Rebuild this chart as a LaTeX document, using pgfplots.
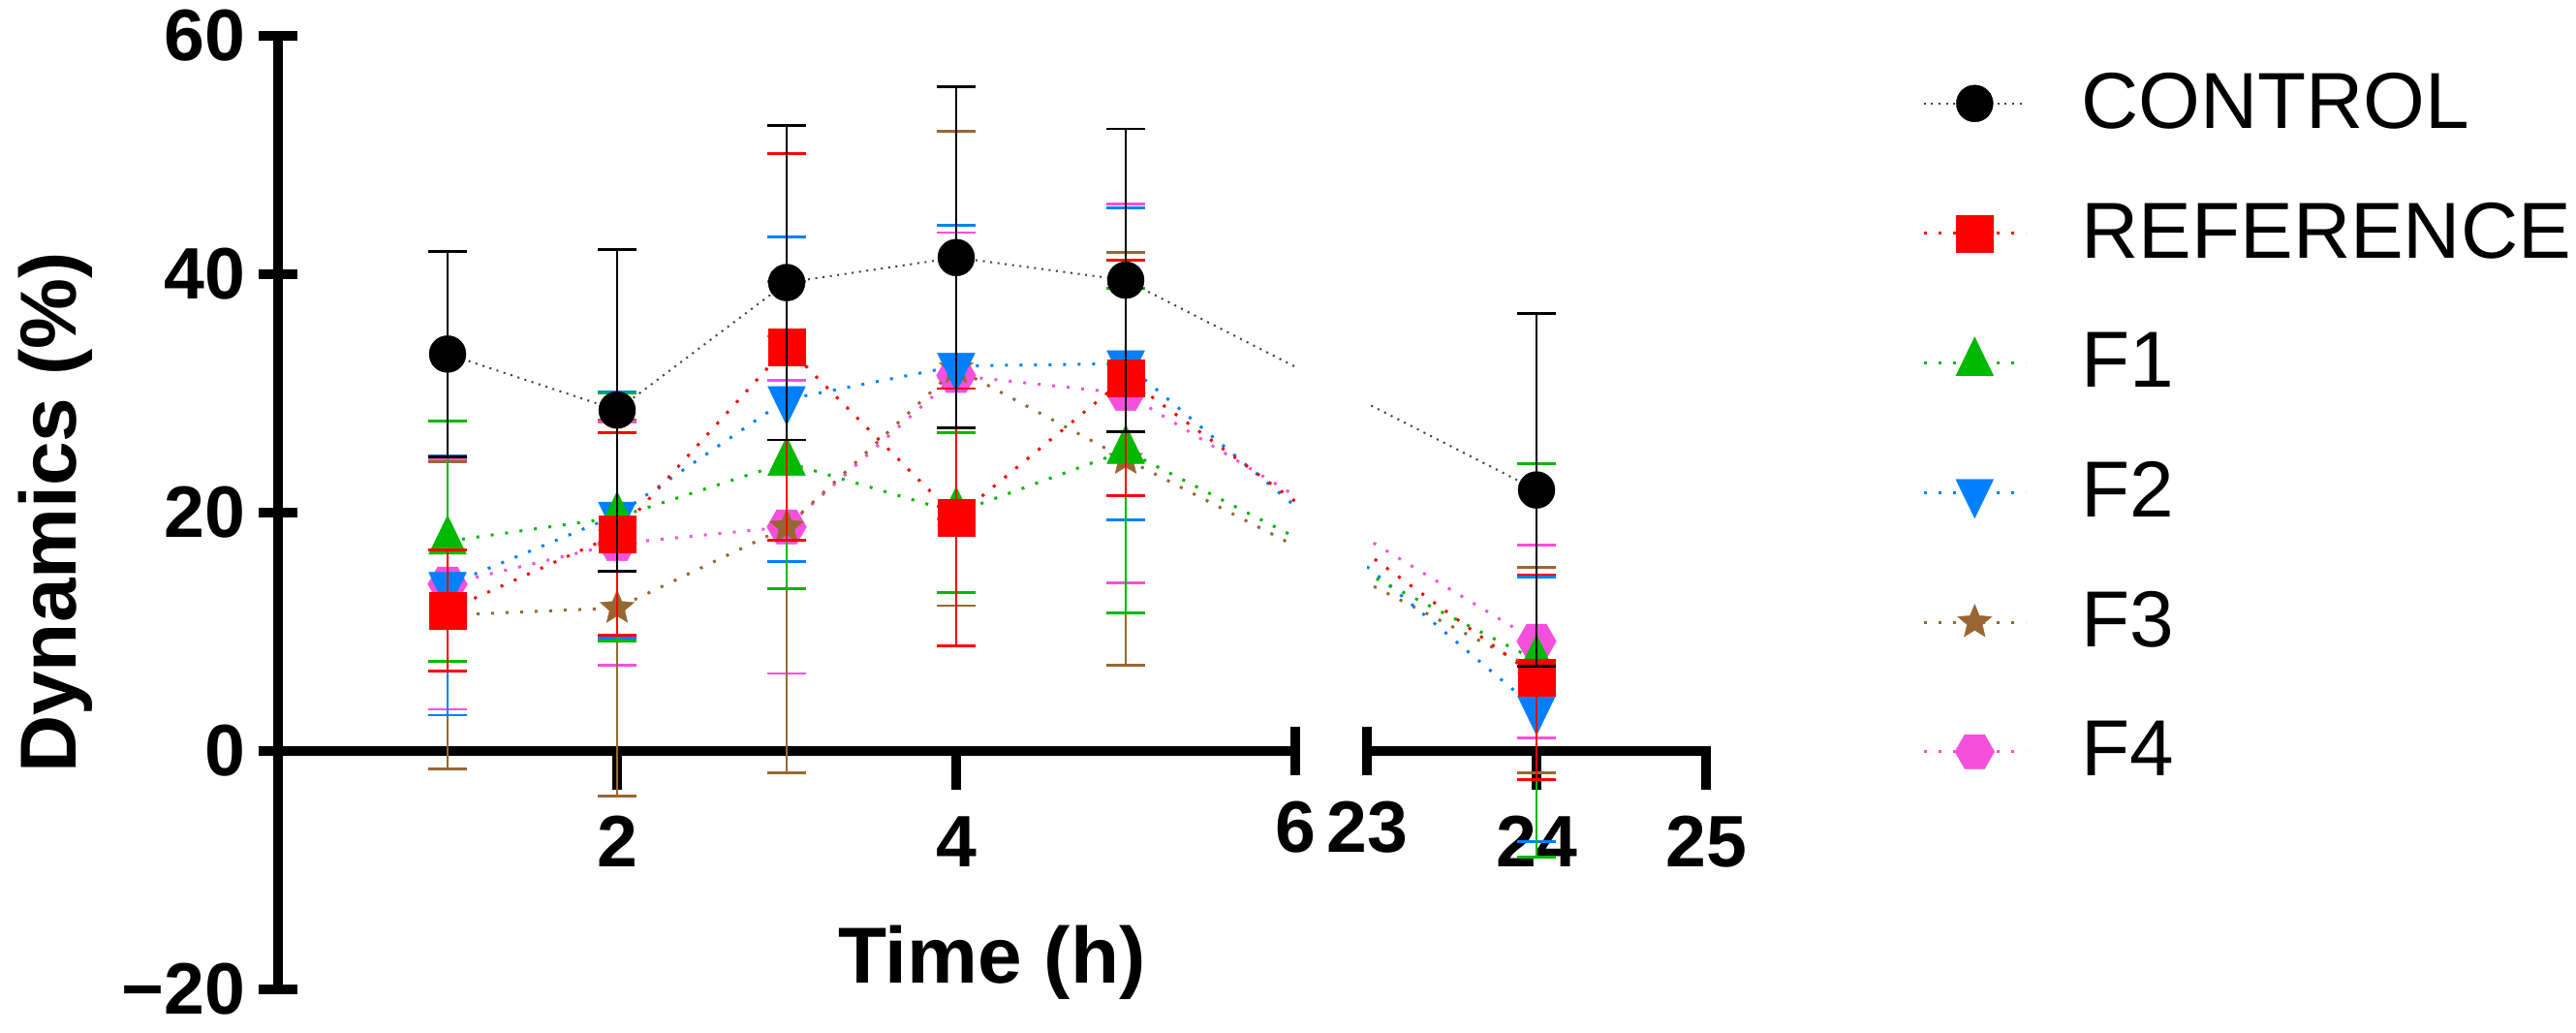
\documentclass[border=0pt]{standalone}
\usepackage{fontspec}
\setmainfont{Liberation Sans}
\usepackage{pgfplots}
\pgfplotsset{compat=1.18}
\usepackage{pgfplotstable}

\definecolor{cR}{RGB}{255,0,0}
\definecolor{cG}{RGB}{0,185,0}
\definecolor{cB}{RGB}{0,128,255}
\definecolor{cBr}{RGB}{153,102,51}
\definecolor{cP}{RGB}{245,80,220}

\pgfdeclareplotmark{hexa}{%
  \pgfpathmoveto{\pgfpointpolar{0}{\pgfplotmarksize}}%
  \pgfpathlineto{\pgfpointpolar{60}{\pgfplotmarksize}}%
  \pgfpathlineto{\pgfpointpolar{120}{\pgfplotmarksize}}%
  \pgfpathlineto{\pgfpointpolar{180}{\pgfplotmarksize}}%
  \pgfpathlineto{\pgfpointpolar{240}{\pgfplotmarksize}}%
  \pgfpathlineto{\pgfpointpolar{300}{\pgfplotmarksize}}%
  \pgfpathclose
  \pgfusepathqfillstroke}
\pgfdeclareplotmark{fstar}{%
  \pgfpathmoveto{\pgfpointpolar{90}{\pgfplotmarksize}}%
  \pgfpathlineto{\pgfpointpolar{126}{0.45*\pgfplotmarksize}}%
  \pgfpathlineto{\pgfpointpolar{162}{\pgfplotmarksize}}%
  \pgfpathlineto{\pgfpointpolar{198}{0.45*\pgfplotmarksize}}%
  \pgfpathlineto{\pgfpointpolar{234}{\pgfplotmarksize}}%
  \pgfpathlineto{\pgfpointpolar{270}{0.45*\pgfplotmarksize}}%
  \pgfpathlineto{\pgfpointpolar{306}{\pgfplotmarksize}}%
  \pgfpathlineto{\pgfpointpolar{342}{0.45*\pgfplotmarksize}}%
  \pgfpathlineto{\pgfpointpolar{18}{\pgfplotmarksize}}%
  \pgfpathlineto{\pgfpointpolar{54}{0.45*\pgfplotmarksize}}%
  \pgfpathclose
  \pgfusepathqfillstroke}

% x = time (h), y = mean (%), e = error
\pgfplotstableread{
x y e
1 33.3 8.6
2 28.6 13.5
3 39.3 13.2
4 41.4 14.3
5 39.5 12.7
24 21.9 14.8
}\ctrl
\pgfplotstableread{
x y e
1 11.8 5.1
2 18.2 8.5
3 33.9 16.2
4 19.6 10.8
5 31.3 9.9
24 6.2 8.6
}\refd
\pgfplotstableread{
x y e
1 17.6 10.1
2 19.6 10.4
3 24.2 10.6
4 20.0 6.7
5 25.2 13.6
24 7.6 16.5
}\fone
\pgfplotstableread{
x y e
1 13.9 10.9
2 19.8 10.3
3 29.5 13.6
4 32.3 11.8
5 32.5 13.1
24 3.5 11.1
}\ftwo
\pgfplotstableread{
x y e
1 11.4 12.9
2 12.0 15.8
3 18.8 20.6
4 32.1 19.9
5 24.5 17.3
24 6.8 8.6
}\fthree
\pgfplotstableread{
x y e
1 14.0 10.5
2 17.4 10.2
3 18.8 12.3
4 31.5 12.0
5 30.0 15.9
24 9.2 8.1
}\ffour

\newcommand{\tickfont}{\fontsize{18.8bp}{21bp}\selectfont\bfseries}
\newcommand{\labfont}{\fontsize{20.5bp}{24bp}\selectfont\bfseries}
\newcommand{\legfont}{\fontsize{20.5bp}{24bp}\selectfont}

\pgfplotsset{
  x coord trafo/.code={\pgfmathparse{ifthenelse(#1>12,#1-16.577,#1)}},
  x coord inv trafo/.code={\pgfmathparse{ifthenelse(#1>6.2,#1+16.577,#1)}},
}
\pgfplotsset{
  myerr/.style={
    /pgfplots/error bars/y dir=both,
    /pgfplots/error bars/y explicit,
    /pgfplots/error bars/error mark=|,
    /pgfplots/error bars/error bar style={solid, line width=0.55bp, #1},
    /pgfplots/error bars/error mark options={solid, line width=0.7bp, mark size=5bp, #1}},
  cline/.style={line width=0.75bp, dash pattern=on 0.75bp off 3bp},
  serC/.style={color=black!75, line width=0.5bp, dash pattern=on 0.5bp off 1.4bp,
    mark=*, mark size=4.75bp, mark options={solid, fill=black, draw=black, line width=0.1bp}},
  serR/.style={color=cR, cline, mark=square*, mark size=4.75bp,
    mark options={solid, fill=cR, draw=cR, line width=0.1bp}},
  serG/.style={color=cG, cline, mark=triangle*, mark size=5.6bp,
    mark options={solid, fill=cG, draw=cG, line width=0.1bp, yscale=1.19}},
  serB/.style={color=cB, cline, mark=triangle*, mark size=5.6bp,
    mark options={solid, fill=cB, draw=cB, line width=0.1bp, rotate=180, yscale=1.19}},
  serBr/.style={color=cBr, cline, mark=fstar, mark size=4.6bp,
    mark options={solid, fill=cBr, draw=cBr, line width=0.1bp}},
  serP/.style={color=cP, cline, mark=hexa, mark size=5.1bp,
    mark options={solid, fill=cP, draw=cP, line width=0.1bp}},
  common/.style={
    x=43.75bp, y=3.075bp, ymin=-20, ymax=60,
    axis x line=middle,
    axis line style={line width=2.5bp, -, line cap=rect, black},
    tick align=outside, major tick length=10bp,
    major tick style={line width=2.5bp, black},
    minor tick num=0,
    ticklabel style={font=\tickfont},
    xticklabel style={yshift=-3.3bp},
    /pgf/number format/assume math mode=true,
    clip marker paths=true,
  },
}

\begin{document}
\begin{tikzpicture}
\path[use as bounding box] (-71.75bp,-11.25bp) rectangle (593bp,255.25bp);
\begin{axis}[common, at={(0bp,0bp)}, anchor=south west,
  xmin=0, xmax=6,
  axis y line=left,
  axis line style={line width=2.5bp, -, line cap=rect, black},
  y axis line style={-},
  ytick={-20,0,20,40,60}, yticklabels={−20,0,20,40,60},
  xtick={2,4}, xticklabels={2,4},
  extra x ticks={6}, extra x tick labels={6},
  extra x tick style={tick align=center, major tick length=12.5bp},
  xlabel={Time (h)}, ylabel={Dynamics (\%)},
  every axis x label/.style={at={(axis description cs:0.7019,0.0061)}, anchor=base, font=\labfont},
  every axis y label/.style={at={(axis description cs:-0.199,0.5)}, rotate=90, anchor=base, font=\labfont},
  legend image code/.code={\draw[mark repeat=2, mark phase=2, #1] plot coordinates {(0bp,0bp) (13.125bp,0bp) (26.25bp,0bp)};},
  reverse legend,
  legend cell align=left,
  legend style={draw=none, fill=none, inner sep=0pt, at={(axis description cs:1.6157,0.962)}, anchor=north west,
    font=\legfont, row sep=17.7bp, nodes={inner sep=0pt},
    /tikz/every odd column/.append style={column sep=14bp}},
]
\addplot[serP, myerr=cP] table[x=x, y=y, y error=e] {\ffour};
\addlegendentry{F4}
\addplot[serBr, myerr=cBr] table[x=x, y=y, y error=e] {\fthree};
\addlegendentry{F3}
\addplot[serB, myerr=cB] table[x=x, y=y, y error=e] {\ftwo};
\addlegendentry{F2}
\addplot[serG, myerr=cG] table[x=x, y=y, y error=e] {\fone};
\addlegendentry{F1}
\addplot[serR, myerr=cR] table[x=x, y=y, y error=e] {\refd};
\addlegendentry{REFERENCE}
\addplot[serC, myerr=black] table[x=x, y=y, y error=e] {\ctrl};
\addlegendentry{CONTROL}
\end{axis}
\begin{axis}[common, at={(281.0bp,0bp)}, anchor=south west,
  xmin=23, xmax=25,
  axis y line=none, ytick=\empty,
  xtick={24,25}, xticklabels={24,25},
  extra x ticks={23}, extra x tick labels={23},
  extra x tick style={tick align=center, major tick length=12.5bp},
]
\addplot[serP, myerr=cP] table[x=x, y=y, y error=e] {\ffour};
\addplot[serBr, myerr=cBr] table[x=x, y=y, y error=e] {\fthree};
\addplot[serB, myerr=cB] table[x=x, y=y, y error=e] {\ftwo};
\addplot[serG, myerr=cG] table[x=x, y=y, y error=e] {\fone};
\addplot[serR, myerr=cR] table[x=x, y=y, y error=e] {\refd};
\addplot[serC, myerr=black] table[x=x, y=y, y error=e] {\ctrl};
\end{axis}
\end{tikzpicture}
\end{document}
